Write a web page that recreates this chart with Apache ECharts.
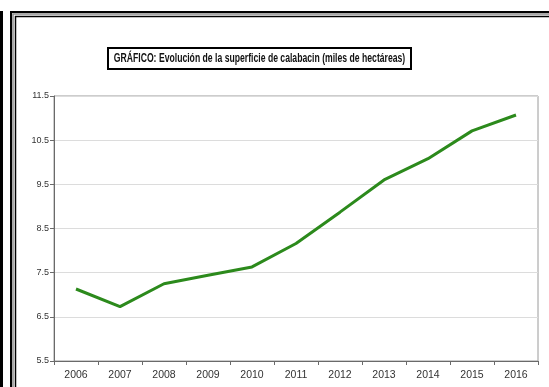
<!DOCTYPE html>
<html>
<head>
<meta charset="utf-8">
<script src="https://cdn.jsdelivr.net/npm/echarts@6/dist/echarts.min.js"></script>
<style>
  html, body { margin: 0; padding: 0; background: #fff; }
  #chart { width: 549px; height: 387px; }
</style>
</head>
<body>
<div id="chart"></div>
<script>
// Superficie de calabacín, miles de hectáreas
const years = ['2006', '2007', '2008', '2009', '2010', '2011', '2012', '2013', '2014', '2015', '2016'];
const superficie = [7.13, 6.73, 7.25, 7.44, 7.63, 8.16, 8.87, 9.60, 10.08, 10.71, 11.07];
const yTicks = [5.5, 6.5, 7.5, 8.5, 9.5, 10.5, 11.5];
const titulo = 'GRÁFICO: Evolución de la superficie de calabacin (miles de hectáreas)';

const sans = '"Liberation Sans", Arial, sans-serif';

const chart = echarts.init(document.getElementById('chart'), null, { renderer: 'canvas' });

chart.setOption({
  backgroundColor: '#ffffff',
  animation: false,
  grid: {
    left: 54, right: 11, top: 96, bottom: 26,
    show: true, borderColor: '#9a9a9a', borderWidth: 1, backgroundColor: 'transparent'
  },
  xAxis: {
    type: 'category',
    data: years,
    boundaryGap: true,
    axisLine: { lineStyle: { color: '#6a6a6a', width: 1 } },
    axisTick: { show: true, alignWithLabel: false, length: 4, lineStyle: { color: '#6a6a6a' } },
    axisLabel: { color: '#333', fontFamily: sans, fontSize: 10.5, margin: 9 },
    splitLine: { show: false }
  },
  yAxis: {
    type: 'value',
    min: yTicks[0],
    max: yTicks[yTicks.length - 1],
    axisLine: { show: true, lineStyle: { color: '#6a6a6a', width: 1 } },
    axisTick: { show: true, length: 4, customValues: yTicks, lineStyle: { color: '#6a6a6a' } },
    axisLabel: {
      color: '#333', fontFamily: sans, fontSize: 9, margin: 5,
      customValues: yTicks,
      formatter: v => String(v)
    },
    splitLine: { show: true, lineStyle: { color: '#dcdcdc', width: 1 } }
  },
  series: [{
    type: 'line',
    data: superficie,
    symbol: 'none',
    lineStyle: { color: '#2c8a1c', width: 3 },
    z: 5
  }],
  graphic: [
    // marco exterior
    { type: 'rect', shape: { x: 0, y: 11, width: 3, height: 400 }, style: { fill: '#000' }, silent: true },
    { type: 'rect', shape: { x: 11, y: 12, width: 560, height: 400 },
      style: { fill: 'none', stroke: '#000', lineWidth: 2 }, silent: true },
    { type: 'rect', shape: { x: 13, y: 14, width: 560, height: 400 },
      style: { fill: 'none', stroke: '#8a8a8a', lineWidth: 1.5 }, silent: true },
    { type: 'rect', shape: { x: 15.5, y: 16.5, width: 560, height: 400 },
      style: { fill: 'none', stroke: '#000', lineWidth: 1.5 }, silent: true },
    // recuadro del título
    { type: 'rect', shape: { x: 108, y: 48, width: 303, height: 21 },
      style: { fill: '#fff', stroke: '#000', lineWidth: 2 }, silent: true, z: 10 },
    { type: 'text', x: 259.5, y: 58.5, z: 11, silent: true, scaleX: 0.72, scaleY: 1,
      style: { text: titulo, fill: '#111', font: 'bold 12px ' + sans, align: 'center', verticalAlign: 'middle' } }
  ]
});
</script>
</body>
</html>
